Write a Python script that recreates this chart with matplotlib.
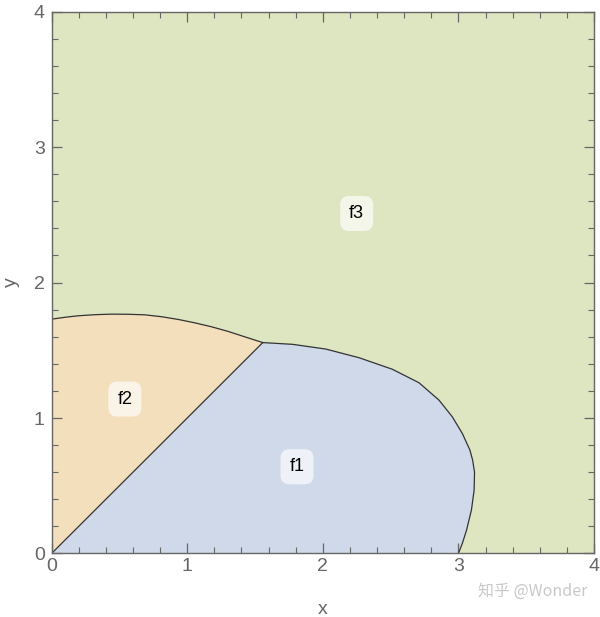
import numpy as np
from matplotlib import pyplot as plt
from matplotlib.ticker import MultipleLocator

# upper edge of the f2 region (x from 0 to the y=x meeting point)
f2_x = [0.0, 0.100, 0.197, 0.320, 0.443, 0.565, 0.688, 0.810, 0.933, 1.055, 1.178, 1.300, 1.423, 1.557]
f2_y = [1.730, 1.744, 1.755, 1.763, 1.767, 1.766, 1.762, 1.748, 1.728, 1.703, 1.674, 1.640, 1.600, 1.557]

# outer edge of the f1 region, from the meeting point down to the x axis
f1_x = [1.557, 1.778, 2.023, 2.268, 2.513, 2.710, 2.857, 2.955, 3.029, 3.085,
        3.105, 3.119, 3.116, 3.096, 3.060, 3.029, 3.000]
f1_y = [1.557, 1.544, 1.509, 1.445, 1.360, 1.260, 1.132, 1.009, 0.886, 0.763,
        0.689, 0.600, 0.468, 0.320, 0.172, 0.074, 0.0]

labels = ['f1', 'f2', 'f3']
label_x = [1.81, 0.54, 2.25]
label_y = [0.64, 1.14, 2.51]

c_f1 = '#d0d9e9'
c_f2 = '#f3dfbb'
c_f3 = '#dde6c1'
edge = '#333333'
gray = '#666666'

plt.rcParams['font.family'] = ['Liberation Sans', 'DejaVu Sans']

fig = plt.figure(figsize=(6, 6.17), dpi=100)
ax = fig.add_axes([0.086, 0.103, 0.904, 0.878])
ax.set_facecolor(c_f3)

# f2: left wall, curve, then diagonal back to origin
px = [0.0] + f2_x + [0.0]
py = [0.0] + f2_y + [0.0]
ax.fill(px, py, color=c_f2, lw=0)
# f1: diagonal from origin, curve, x axis back
qx = [0.0] + f1_x + [0.0]
qy = [0.0] + f1_y + [0.0]
ax.fill(qx, qy, color=c_f1, lw=0)

ax.plot(f2_x, f2_y, color=edge, lw=0.9, solid_joinstyle='round')
ax.plot(f1_x, f1_y, color=edge, lw=0.9, solid_joinstyle='round')
ax.plot([0, f2_x[-1]], [0, f2_y[-1]], color=edge, lw=0.9)

for t, x, y in zip(labels, label_x, label_y):
    ax.text(x, y, t, ha='center', va='center', fontsize=13, color='black',
            bbox=dict(boxstyle='round,pad=0.5,rounding_size=0.5', fc='white',
                      ec='none', alpha=0.65))

ax.set_xlim(0, 4)
ax.set_ylim(0, 4)
ax.xaxis.set_major_locator(MultipleLocator(1))
ax.yaxis.set_major_locator(MultipleLocator(1))
ax.xaxis.set_minor_locator(MultipleLocator(0.2))
ax.yaxis.set_minor_locator(MultipleLocator(0.2))
ax.tick_params(which='both', direction='in', top=True, right=True, color=gray,
               labelcolor=gray, labelsize=14)
ax.tick_params(which='major', length=7, width=0.9)
ax.tick_params(which='minor', length=4, width=0.8)
ax.tick_params(axis='x', which='major', pad=3)
ax.tick_params(axis='y', which='major', pad=5)
for s in ax.spines.values():
    s.set_color(gray)
    s.set_linewidth(1.0)

ax.set_xlabel('x', fontsize=14, color=gray, labelpad=19)
ax.set_ylabel('y', fontsize=14, color=gray, labelpad=10)

fig.text(0.888, 0.041, '知乎 @Wonder', ha='center', va='center', fontsize=11.5,
         color='#c8c8c8', family=['Noto Sans CJK SC', 'DejaVu Sans'])

fig.savefig('out.png', dpi=100)
